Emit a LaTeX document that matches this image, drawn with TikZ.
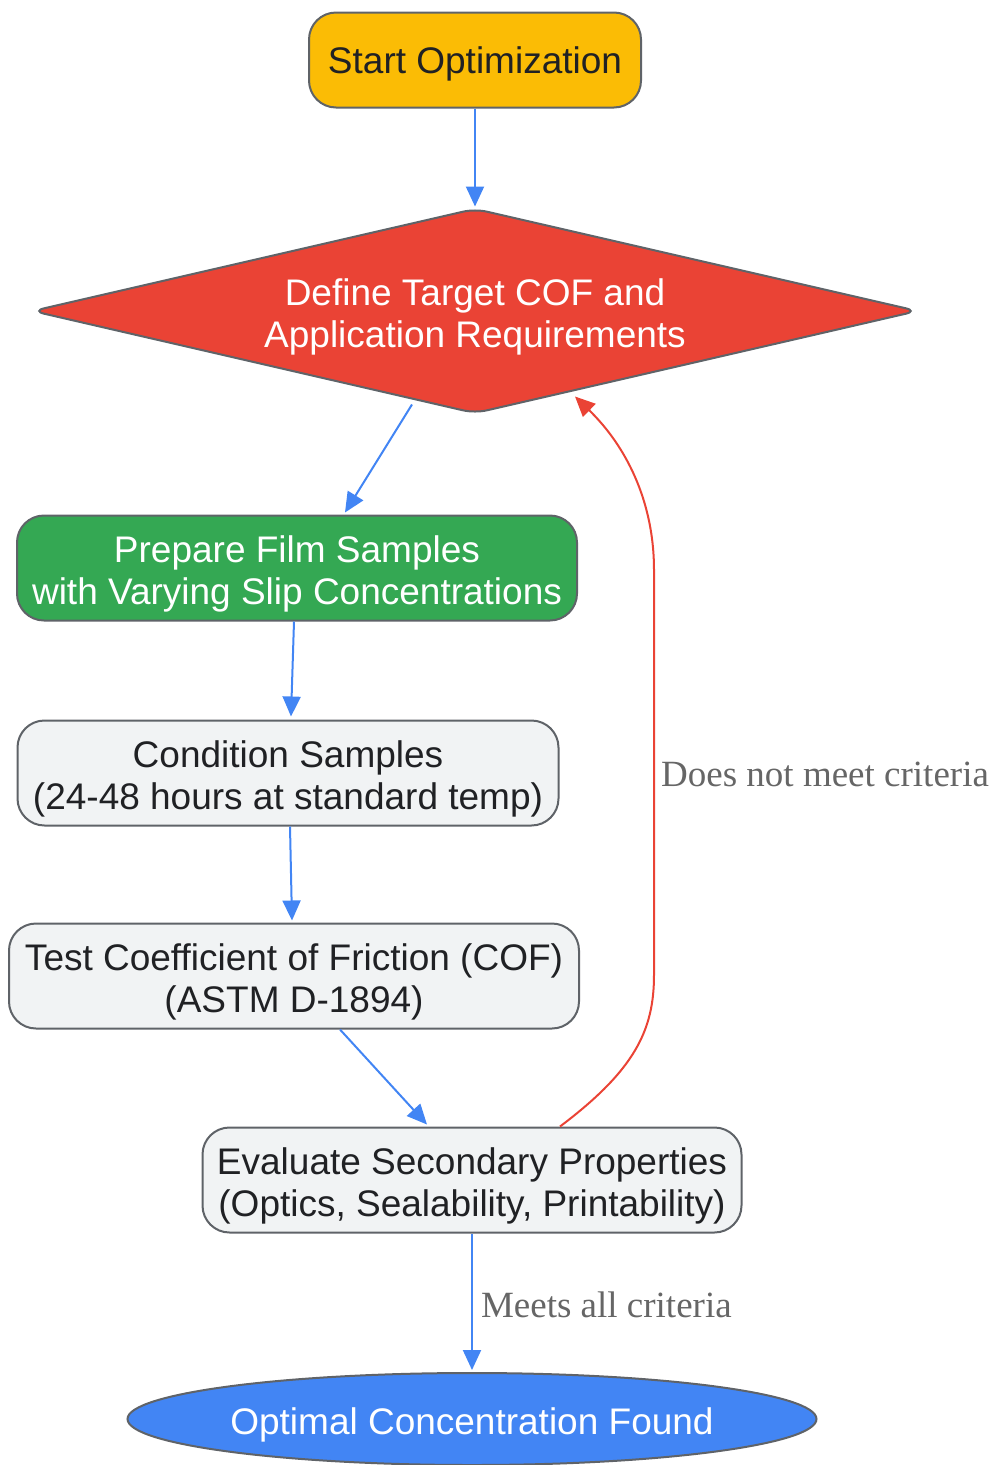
\documentclass[tikz,border=0pt]{standalone}
\usepackage{fontspec}
\setmainfont{Liberation Sans}
\newfontfamily\lblfont{Liberation Serif}
\usetikzlibrary{shapes.geometric,arrows.meta}
\definecolor{gyellow}{HTML}{FBBC05}
\definecolor{gred}{HTML}{EA4335}
\definecolor{ggreen}{HTML}{34A853}
\definecolor{gblue}{HTML}{4285F4}
\definecolor{glight}{HTML}{F1F3F4}
\definecolor{gborder}{HTML}{5F6368}
\definecolor{gtext}{HTML}{202124}
\definecolor{glabel}{HTML}{666666}
\begin{document}
\begin{tikzpicture}[x=1pt,y=-1pt,
	box/.style={draw=gborder,line width=2pt,rounded corners=27pt,align=center,text=gtext,minimum height=105pt,inner sep=0pt,text height=73pt,text depth=0pt,font=\fontsize{37}{42}\selectfont},
	flow/.style={gblue,line width=2pt,-{Triangle[length=20pt,width=18pt]}},
	back/.style={gred,line width=2pt,-{Triangle[length=20pt,width=18pt]}},
	lbl/.style={text=glabel,font=\lblfont\fontsize{37}{42}\selectfont,inner sep=0pt}]
	\useasboundingbox (0,0) rectangle (993,1465);
	\node[box,fill=gyellow,minimum width=332pt,minimum height=95pt,text height=27pt] (start) at (475,60) {Start Optimization};
	\node[diamond,draw=gborder,line width=2pt,fill=gred,text=white,rounded corners=12pt,aspect=4.32,minimum width=886pt,minimum height=205pt,inner sep=0pt,align=center,text height=73pt,text depth=0pt,font=\fontsize{37}{42}\selectfont] (target) at (475,311) {Define Target COF and\\Application Requirements};
	\node[box,fill=ggreen,text=white,minimum width=560pt] (prep) at (297,568) {Prepare Film Samples\\with Varying Slip Concentrations};
	\node[box,fill=glight,minimum width=541pt] (cond) at (288,773) {Condition Samples\\(24-48 hours at standard temp)};
	\node[box,fill=glight,minimum width=570pt] (test) at (294,976) {Test Coefficient of Friction (COF)\\(ASTM D-1894)};
	\node[box,fill=glight,minimum width=539pt] (eval) at (472,1180) {Evaluate Secondary Properties\\(Optics, Sealability, Printability)};
	\node[ellipse,draw=gborder,line width=2pt,fill=gblue,text=white,minimum width=689pt,minimum height=92pt,inner sep=0pt,text height=31pt,text depth=0pt,font=\fontsize{37}{42}\selectfont] (found) at (472,1419) {Optimal Concentration Found};
	\draw[flow] (start.south) -- ([yshift=1pt]target.north);
	\draw[flow] ([xshift=-63pt,yshift=10pt]target.south) -- ([xshift=48pt,yshift=2pt]prep.north);
	\draw[flow] ([xshift=-3pt]prep.south) -- ([xshift=3pt,yshift=3pt]cond.north);
	\draw[flow] ([xshift=2pt]cond.south) -- ([xshift=-2pt,yshift=2pt]test.north);
	\draw[flow] ([xshift=46pt]test.south) -- ([xshift=-45pt,yshift=2pt]eval.north);
	\draw[flow] (eval.south) -- ([yshift=2pt]found.north) node[lbl,pos=0.52,anchor=west,xshift=8pt] {Meets all criteria};
	\draw[back] ([xshift=88pt]eval.north) .. controls (635,1070) and (654,1030) .. (654,975) -- (654,570) .. controls (654,500) and (625,445) .. ([xshift=100pt,yshift=18pt]target.south);
	\node[lbl,anchor=west] (nomeet) at (661,774) {Does not meet criteria};
\end{tikzpicture}
\end{document}
